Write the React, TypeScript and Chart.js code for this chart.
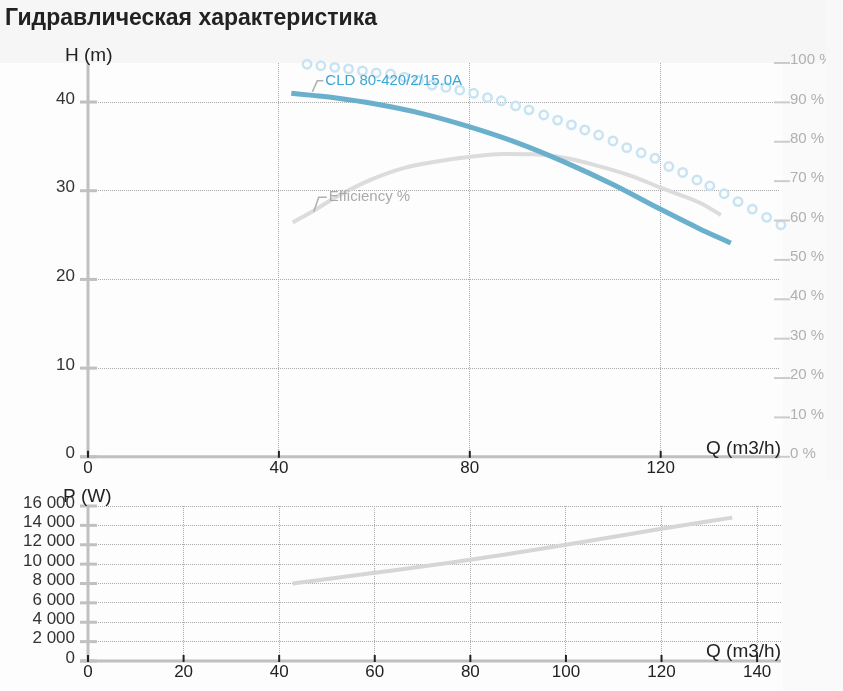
import React, { useEffect, useRef } from "react";
import { Chart, registerables } from "chart.js";

Chart.register(...registerables);

const FONT = "'Liberation Sans', Arial, Helvetica, sans-serif";

const TITLE = "Гидравлическая характеристика";
const PUMP_NAME = "CLD 80-420/2/15.0A";
const EFF_NAME = "Efficiency %";
const H_TITLE = "H (m)";
const Q_TITLE = "Q (m3/h)";
const P_TITLE = "P (W)";

// Head curve H(Q)
const headQ = [42.6, 47, 52, 60, 70, 80, 90, 100, 110, 120, 128, 134.7];
const headH = [41.0, 40.75, 40.45, 39.8, 38.7, 37.2, 35.4, 33.2, 30.7, 27.9, 25.75, 24.1];

// Efficiency curve (%)
const effQ = [42.9, 47.3, 52.2, 59.2, 66.1, 73.1, 80.1, 87.1, 93.4, 100.4, 107.4, 114.4, 120.2, 128.4, 132.6];
const effPct = [59.5, 62.5, 66.1, 70.3, 73.3, 75.0, 76.2, 76.9, 76.8, 75.8, 73.7, 71.1, 68.2, 64.4, 61.4];

// Dotted (circle) series (%)
const dotQ = [45.9, 48.8, 51.7, 54.6, 57.5, 60.4, 63.4, 66.3, 69.2, 72.1, 75.0, 77.9, 80.8, 83.7, 86.6, 89.6, 92.4, 95.5, 98.4, 101.3, 104.1, 107.0, 110.0, 112.9, 115.9, 118.8, 121.7, 124.6, 127.6, 130.3, 133.3, 136.2, 139.2, 142.2, 145.2];
const dotPct = [99.7, 99.3, 98.9, 98.5, 98.0, 97.5, 97.2, 96.4, 95.6, 94.4, 93.8, 93.1, 92.3, 91.2, 90.4, 89.1, 88.1, 86.8, 85.5, 84.3, 83.0, 81.7, 80.2, 78.5, 77.2, 75.8, 73.7, 72.2, 70.3, 68.8, 66.8, 64.8, 62.9, 60.8, 58.9];

// Power curve P(Q)
const powerQ = [42.8, 60, 80, 100, 120, 134.8];
const powerW = [8000, 9100, 10450, 12000, 13650, 14800];

// Axis ticks
const topXTicks = [0, 40, 80, 120];
const topYTicks = [0, 10, 20, 30, 40];
const pctTicks = [0, 10, 20, 30, 40, 50, 60, 70, 80, 90, 100];
const botXTicks = [0, 20, 40, 60, 80, 100, 120, 140];
const botYTicks = [0, 2000, 4000, 6000, 8000, 10000, 12000, 14000, 16000];

const Q_MAX = 145;
const H_MAX = 44.4;
const P_MAX = 16000;

const fmtThousands = (v: number) => String(v).replace(/\B(?=(\d{3})+(?!\d))/g, " ");

function seg(ctx: CanvasRenderingContext2D, x1: number, y1: number, x2: number, y2: number) {
  ctx.beginPath();
  ctx.moveTo(x1, y1);
  ctx.lineTo(x2, y2);
  ctx.stroke();
}

const topDecor = {
  id: "topDecor",
  beforeDraw(chart: any) {
    const { ctx, width, height, chartArea } = chart;
    ctx.save();
    ctx.fillStyle = "#f6f6f6";
    ctx.fillRect(0, 0, width, height);
    ctx.fillStyle = "#fdfdfd";
    ctx.fillRect(0, chartArea.top, chartArea.right + 3, height - chartArea.top);
    ctx.fillStyle = "#fafafa";
    ctx.fillRect(chartArea.right + 3, chartArea.top, width - chartArea.right - 3, height - chartArea.top);
    ctx.restore();
  },
  afterDraw(chart: any) {
    const { ctx, chartArea } = chart;
    const { left, right, top, bottom } = chartArea;
    const xs = chart.scales.x;
    const ys = chart.scales.y;
    const y1 = chart.scales.y1;
    ctx.save();
    ctx.lineCap = "butt";
    ctx.strokeStyle = "#cccccc";
    ctx.lineWidth = 2;
    for (const v of pctTicks) {
      const py = y1.getPixelForValue(v);
      seg(ctx, right - 6, py, right + 10, py);
    }
    ctx.strokeStyle = "#c0c0c0";
    ctx.lineWidth = 3;
    seg(ctx, left, top, left, bottom);
    for (const v of topYTicks) {
      const py = ys.getPixelForValue(v);
      seg(ctx, left - 8, py, left + 9, py);
    }
    seg(ctx, left - 8, bottom, right, bottom);
    ctx.strokeStyle = "#222";
    ctx.lineWidth = 2;
    for (const v of topXTicks) {
      const px = xs.getPixelForValue(v);
      seg(ctx, px, bottom - 6, px, bottom + 1);
    }
    ctx.font = `19px ${FONT}`;
    ctx.textBaseline = "middle";
    ctx.fillStyle = "#222";
    ctx.textAlign = "left";
    ctx.fillText(H_TITLE, left - 23, top - 7.5);
    ctx.textAlign = "right";
    ctx.fillText(Q_TITLE, right + 1, bottom - 8);

    ctx.font = `15px ${FONT}`;
    const hp = chart.getDatasetMeta(0).data[1];
    if (hp) {
      ctx.strokeStyle = "#b0b0b0";
      ctx.lineWidth = 1.5;
      ctx.beginPath();
      ctx.moveTo(hp.x, hp.y - 3.5);
      ctx.lineTo(hp.x + 5, hp.y - 14.5);
      ctx.lineTo(hp.x + 11, hp.y - 14.5);
      ctx.stroke();
      ctx.fillStyle = "#3aa6d6";
      ctx.textAlign = "left";
      ctx.fillText(PUMP_NAME, hp.x + 13, hp.y - 15);
    }
    const ep = chart.getDatasetMeta(1).data[1];
    if (ep) {
      ctx.strokeStyle = "#b0b0b0";
      ctx.lineWidth = 1.5;
      ctx.beginPath();
      ctx.moveTo(ep.x, ep.y + 1);
      ctx.lineTo(ep.x + 5, ep.y - 13.4);
      ctx.lineTo(ep.x + 13, ep.y - 13.4);
      ctx.stroke();
      ctx.fillStyle = "#aaaaaa";
      ctx.textAlign = "left";
      ctx.fillText(EFF_NAME, ep.x + 15, ep.y - 14);
    }
    ctx.restore();
  },
};

const botDecor = {
  id: "botDecor",
  beforeDraw(chart: any) {
    const { ctx, width, height, chartArea } = chart;
    ctx.save();
    ctx.fillStyle = "#fdfdfd";
    ctx.fillRect(0, 0, chartArea.right + 2, height);
    ctx.fillStyle = "#fafafa";
    ctx.fillRect(chartArea.right + 2, 0, width - chartArea.right - 2, height);
    ctx.restore();
  },
  afterDraw(chart: any) {
    const { ctx, chartArea } = chart;
    const { left, right, top, bottom } = chartArea;
    const xs = chart.scales.x;
    const ys = chart.scales.y;
    ctx.save();
    ctx.lineCap = "butt";
    ctx.strokeStyle = "#c0c0c0";
    ctx.lineWidth = 3;
    seg(ctx, left, top, left, bottom);
    for (const v of botYTicks) {
      const py = ys.getPixelForValue(v);
      seg(ctx, left - 8, py, left + 9, py);
    }
    seg(ctx, left - 8, bottom, right, bottom);
    ctx.font = `19px ${FONT}`;
    ctx.textBaseline = "middle";
    ctx.fillStyle = "#222";
    ctx.textAlign = "left";
    ctx.fillText(P_TITLE, left - 25, top - 9);
    ctx.textAlign = "right";
    ctx.fillText(Q_TITLE, right, bottom - 9.5);
    ctx.strokeStyle = "#222";
    ctx.lineWidth = 2;
    for (const v of botXTicks) {
      const px = xs.getPixelForValue(v);
      seg(ctx, px, bottom - 6, px, bottom + 1);
    }
    ctx.restore();
  },
};

const gridOpts = { color: "#aaaaaa", lineWidth: 1, drawTicks: false };
const borderOpts = { display: false, dash: [1, 1] };
const tickFont = { size: 17, family: FONT };
const pctFont = { size: 15, family: FONT };

export default function App() {
  const topRef = useRef<HTMLCanvasElement | null>(null);
  const botRef = useRef<HTMLCanvasElement | null>(null);

  useEffect(() => {
    if (!topRef.current || !botRef.current) return;
    const top = new Chart(topRef.current, {
      type: "line",
      data: {
        datasets: [
          {
            label: PUMP_NAME,
            data: headQ.map((q, i) => ({ x: q, y: headH[i] })),
            yAxisID: "y",
            borderColor: "#6ab0cc",
            borderWidth: 5,
            pointRadius: 0,
            cubicInterpolationMode: "monotone",
            fill: false,
          },
          {
            label: EFF_NAME,
            data: effQ.map((q, i) => ({ x: q, y: effPct[i] })),
            yAxisID: "y1",
            borderColor: "#dcdcdc",
            borderWidth: 4,
            pointRadius: 0,
            cubicInterpolationMode: "monotone",
            fill: false,
          },
          {
            label: "dots",
            data: dotQ.map((q, i) => ({ x: q, y: dotPct[i] })),
            yAxisID: "y1",
            showLine: false,
            pointStyle: "circle",
            pointRadius: 4.2,
            pointBorderWidth: 2.5,
            pointBorderColor: "#c8e4f3",
            pointBackgroundColor: "rgba(0,0,0,0)",
            clip: false,
          },
        ],
      } as any,
      options: {
        responsive: false,
        animation: false,
        events: [],
        layout: { padding: { top: 63, left: 0, right: 0, bottom: 0 } },
        plugins: { legend: { display: false }, tooltip: { enabled: false }, title: { display: false } },
        scales: {
          x: {
            type: "linear",
            min: 0,
            max: Q_MAX,
            afterBuildTicks: (s: any) => { s.ticks = topXTicks.map((v) => ({ value: v })); },
            afterFit: (s: any) => { s.height = 23; },
            grid: gridOpts,
            border: borderOpts,
            ticks: { padding: 1, color: "#222", font: tickFont, maxRotation: 0, autoSkip: false },
          },
          y: {
            type: "linear",
            position: "left",
            min: 0,
            max: H_MAX,
            afterBuildTicks: (s: any) => { s.ticks = topYTicks.map((v) => ({ value: v })); },
            afterFit: (s: any) => { s.width = 88; },
            grid: gridOpts,
            border: borderOpts,
            ticks: { padding: 13, labelOffset: -3, color: "#333", font: tickFont, autoSkip: false },
          },
          y1: {
            type: "linear",
            position: "right",
            min: 0,
            max: 100,
            afterBuildTicks: (s: any) => { s.ticks = pctTicks.map((v) => ({ value: v })); },
            afterFit: (s: any) => { s.width = 46; },
            grid: { display: false, drawTicks: false },
            border: { display: false },
            ticks: { padding: 10, labelOffset: -3, color: "#b0b0b0", font: pctFont, autoSkip: false, callback: (v: any) => `${v} %` },
          },
        },
      } as any,
      plugins: [topDecor],
    });

    const bot = new Chart(botRef.current, {
      type: "line",
      data: {
        datasets: [
          {
            label: "P",
            data: powerQ.map((q, i) => ({ x: q, y: powerW[i] })),
            borderColor: "#d6d6d6",
            borderWidth: 4,
            pointRadius: 0,
            cubicInterpolationMode: "monotone",
            fill: false,
          },
        ],
      } as any,
      options: {
        responsive: false,
        animation: false,
        events: [],
        layout: { padding: { top: 26, left: 0, right: 62, bottom: 0 } },
        plugins: { legend: { display: false }, tooltip: { enabled: false }, title: { display: false } },
        scales: {
          x: {
            type: "linear",
            min: 0,
            max: Q_MAX,
            afterBuildTicks: (s: any) => { s.ticks = botXTicks.map((v) => ({ value: v })); },
            afterFit: (s: any) => { s.height = 30; },
            grid: gridOpts,
            border: borderOpts,
            ticks: { padding: 1, color: "#222", font: tickFont, maxRotation: 0, autoSkip: false },
          },
          y: {
            type: "linear",
            min: 0,
            max: P_MAX,
            afterBuildTicks: (s: any) => { s.ticks = botYTicks.map((v) => ({ value: v })); },
            afterFit: (s: any) => { s.width = 88; },
            grid: gridOpts,
            border: borderOpts,
            ticks: { padding: 13, labelOffset: -3, color: "#333", font: tickFont, autoSkip: false, callback: (v: any) => fmtThousands(Number(v)) },
          },
        },
      } as any,
      plugins: [botDecor],
    });

    return () => {
      top.destroy();
      bot.destroy();
    };
  }, []);

  return (
    <div style={{ position: "absolute", left: 0, top: 0, width: 843, height: 691, background: "#f8f8f8", overflow: "hidden" }}>
      <canvas ref={topRef} width={826} height={480} style={{ position: "absolute", left: 0, top: 0, width: 826, height: 480 }} />
      <canvas ref={botRef} width={843} height={211} style={{ position: "absolute", left: 0, top: 480, width: 843, height: 211 }} />
      <div
        style={{
          position: "absolute",
          left: 5,
          top: 4,
          font: `bold 23px ${FONT}`,
          lineHeight: "26px",
          color: "#222",
          whiteSpace: "nowrap",
        }}
      >
        {TITLE}
      </div>
    </div>
  );
}
